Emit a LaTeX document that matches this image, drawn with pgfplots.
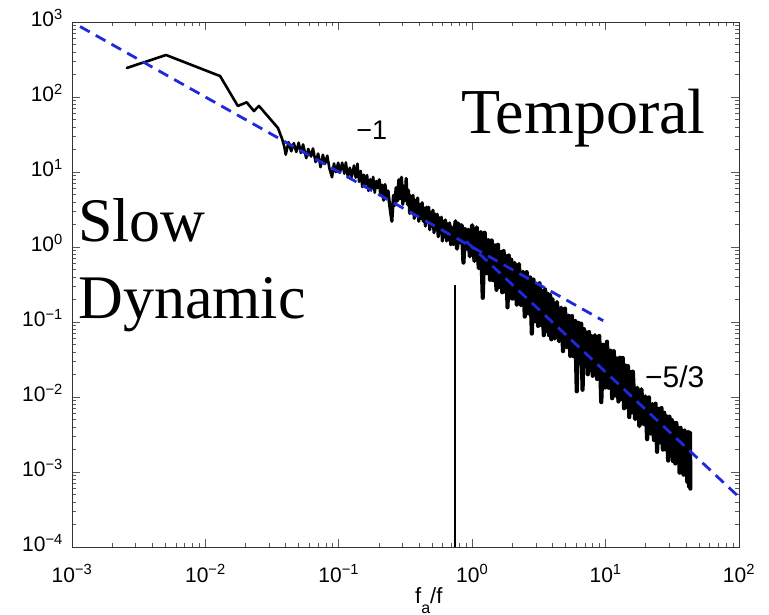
\documentclass[border=0pt]{standalone}
\usepackage{fontspec}
\setmainfont{Liberation Sans}
\newfontfamily\timesfont{Liberation Serif}
\usepackage{pgfplots}
\pgfplotsset{compat=1.18}
\definecolor{dashblue}{RGB}{30,40,220}
\begin{document}
\begin{tikzpicture}
\useasboundingbox (-72pt,-68pt) rectangle (697pt,547pt);
\begin{axis}[
  at={(0pt,0pt)}, anchor=south west,
  scale only axis, width=667pt, height=525pt,
  xmode=log, ymode=log,
  xmin=1e-3, xmax=1e2, ymin=1e-4, ymax=1e3,
  xtick={1e-3,1e-2,1e-1,1,10,100},
  xticklabels={10\textsuperscript{−3},10\textsuperscript{−2},10\textsuperscript{−1},10\textsuperscript{0},10\textsuperscript{1},10\textsuperscript{2}},
  ytick={1e-4,1e-3,1e-2,1e-1,1,10,100,1000},
  yticklabels={10\textsuperscript{−4},10\textsuperscript{−3},10\textsuperscript{−2},10\textsuperscript{−1},10\textsuperscript{0},10\textsuperscript{1},10\textsuperscript{2},10\textsuperscript{3}},
  tick label style={font=\fontsize{21}{24}\selectfont, inner sep=0pt},
  xticklabel style={anchor=base, yshift=-35pt},
  yticklabel style={anchor=east, xshift=-9pt, yshift=4pt},
  major tick length=8pt, minor tick length=4pt,
  tick style={black!65, line width=0.6pt},
  axis line style={black!80, line width=0.8pt},
  clip=false,
  xlabel={f\raisebox{-10pt}{\fontsize{16}{16}\selectfont a}/f},
  xlabel style={at={(axis description cs:0.535,0)}, anchor=base, yshift=-56pt, inner sep=0pt, font=\fontsize{22}{26}\selectfont},
]
% spectrum, low-frequency part
\addplot[black, line width=2.6pt, line join=round, line cap=round] coordinates {
(0.00258,244) (0.00507,363) (0.0129,190) (0.0175,76) (0.0204,85) (0.0231,65) (0.0252,76) (0.035,38.6) (0.0375,28) (0.039,22) (0.040,17)
(0.042,25) (0.044,18.9) (0.046,24.3) (0.048,18.5) (0.050,24.6) (0.052,17.9) (0.054,23.3) (0.057,15.3) (0.059,20.3) (0.062,16.1) (0.064,20.6) (0.067,13.6) (0.070,17.6) (0.073,11.6) (0.076,17.0) (0.079,12.9) (0.082,16.5) (0.085,11.2) (0.089,8.5) (0.092,13.0) (0.095,10.0) (0.099,13.3) (0.102,9.8) (0.106,13.3) (0.110,9.5) (0.113,13.4) (0.117,8.5) (0.121,11.4) (0.125,8.6) (0.130,12.2) (0.134,8.4) (0.138,12.9) (0.142,7.4) (0.146,10.3) (0.150,6.3) (0.154,9.2) (0.158,6.8) (0.163,9.1) (0.167,5.6) (0.172,8.0) (0.176,6.0) (0.181,8.6) (0.186,5.3) (0.191,7.6) (0.196,6.1) (0.201,7.9)
};
% spectrum, middle part
\addplot[black, line width=3.2pt, line join=round, line cap=round] coordinates {
(0.201,7.9) (0.206,4.9) (0.211,6.7) (0.217,4.2) (0.222,6.8) (0.228,4.6) (0.234,5.6) (0.240,3.7) (0.250,2.2) (0.257,4.9) (0.263,3.6) (0.269,6.2) (0.275,4.1) (0.282,7.9) (0.288,4.4) (0.295,8.5) (0.302,3.7) (0.308,6.5) (0.314,4.2) (0.320,8.2) (0.327,3.7) (0.333,5.7) (0.340,2.8) (0.346,4.8) (0.353,3.1) (0.360,4.9) (0.368,2.4) (0.375,4.2) (0.383,2.7) (0.390,4.5) (0.398,2.2) (0.406,3.7) (0.414,2.4) (0.422,3.9) (0.430,2.2) (0.438,3.3) (0.446,1.9) (0.455,3.4) (0.463,2.2) (0.472,3.4) (0.481,1.7) (0.490,2.9) (0.499,1.9) (0.508,3.1) (0.517,1.55) (0.527,2.75) (0.536,1.7) (0.546,2.75) (0.556,1.37) (0.566,2.45) (0.576,1.55) (0.587,2.5) (0.597,1.2) (0.608,2.2) (0.619,1.37) (0.630,2.3) (0.642,1.2) (0.653,2.05) (0.665,1.25) (0.677,2.1) (0.690,1.07) (0.702,1.85) (0.715,1.12)
};
% spectrum, dense high part
\addplot[black, line width=4.2pt, line join=round, line cap=round] coordinates {
(0.715,1.12) (0.73,1.1) (0.75,2.2) (0.77,0.95) (0.79,2.05) (0.81,1.15) (0.835,1.95) (0.86,0.62) (0.885,1.75) (0.91,0.95) (0.935,1.7) (0.96,0.75) (0.985,1.5)
(1.00,1.95) (1.04,0.65) (1.08,1.83) (1.12,0.52) (1.16,1.57) (1.20,0.21) (1.24,1.55) (1.28,0.45) (1.32,1.23) (1.36,0.365) (1.40,1.22) (1.44,0.36) (1.48,1.05) (1.52,0.269) (1.56,1.07) (1.60,0.294) (1.64,0.857) (1.68,0.249) (1.72,0.884) (1.76,0.255) (1.80,0.755) (1.84,0.157) (1.88,0.771) (1.92,0.211) (1.96,0.679) (2.00,0.205)
(2.08,0.614) (2.16,0.169) (2.24,0.594) (2.32,0.167) (2.40,0.468) (2.48,0.118) (2.56,0.462) (2.64,0.13) (2.72,0.393) (2.80,0.07) (2.88,0.368) (2.96,0.103) (3.04,0.316) (3.12,0.0887) (3.20,0.328) (3.28,0.0914) (3.36,0.259) (3.44,0.0666) (3.52,0.272) (3.60,0.076) (3.68,0.237) (3.76,0.067) (3.84,0.228) (3.92,0.0589) (4.00,0.2)
(4.16,0.0602) (4.32,0.185) (4.48,0.0554) (4.64,0.155) (4.80,0.0409) (4.96,0.151) (5.12,0.0461) (5.28,0.121) (5.44,0.0353) (5.60,0.12) (5.76,0.035) (5.92,0.103) (6.08,0.0119) (6.24,0.0975) (6.40,0.0285) (6.56,0.0951) (6.72,0.0125) (6.88,0.0804) (7.04,0.0257) (7.20,0.0723) (7.36,0.0201) (7.52,0.0735) (7.68,0.0229) (7.84,0.0646) (8.00,0.0192)
(8.32,0.0667) (8.64,0.0174) (8.96,0.0652) (9.28,0.00854) (9.60,0.0498) (9.92,0.0134) (10.24,0.0546) (10.56,0.0133) (10.88,0.0415) (11.2,0.00963) (11.52,0.0408) (11.84,0.0105) (12.16,0.0326) (12.48,0.00872) (12.8,0.0334) (13.12,0.00937) (13.44,0.0332) (13.76,0.00707) (14.08,0.0263) (14.4,0.00741) (14.72,0.0258) (15.04,0.0054) (15.36,0.0215) (15.68,0.00623) (16.0,0.0218)
(16.64,0.00507) (17.28,0.0133) (17.92,0.00408) (18.56,0.0127) (19.2,0.00436) (19.84,0.0102) (20.48,0.00274) (21.12,0.00989) (21.76,0.00324) (22.4,0.00804) (23.04,0.00268) (23.68,0.00816) (24.32,0.00186) (24.96,0.00696) (25.6,0.00248) (26.24,0.00713) (26.88,0.00199) (27.52,0.00615) (28.16,0.002) (28.8,0.0055) (29.44,0.00142) (30.08,0.00547) (30.72,0.00166) (31.36,0.00493) (32.0,0.0014)
(32.64,0.00452) (33.28,0.0013) (33.92,0.0045) (34.56,0.00137) (35.2,0.00384) (35.84,0.00098) (36.48,0.00388) (37.12,0.00109) (37.76,0.00353) (38.4,0.00092) (39.04,0.00357) (39.68,0.00109) (40.32,0.00327) (40.96,0.00074) (41.6,0.0034) (42.24,0.00064) (42.88,0.00333) (43.2,0.0006)
};
% vertical marker
\addplot[black, line width=1.4pt] coordinates {(0.745,1e-4) (0.745,0.31)};
% slope -1 reference
\addplot[dashblue, line width=2.8pt, dash pattern=on 11pt off 7pt] coordinates {(0.00115,870) (9.6,0.104)};
% slope -5/3 reference
\addplot[dashblue, line width=2.8pt, dash pattern=on 11pt off 7pt] coordinates {(0.9,1.19) (100,0.000464)};
% annotations
\node[anchor=center, inner sep=0pt, font=\fontsize{27}{30}\selectfont] at (axis cs:0.177,36) {−1};
\node[anchor=center, inner sep=0pt, font=\fontsize{30}{34}\selectfont] at (axis cs:33,0.0185) {−5/3};
\node[anchor=base west, inner sep=0pt, font=\timesfont\fontsize{64}{72}\selectfont] at (axis cs:0.824,33.1) {Temporal};
\node[anchor=base west, inner sep=0pt, font=\timesfont\fontsize{62}{70}\selectfont] at (axis cs:0.00111,1.166) {Slow};
\node[anchor=base west, inner sep=0pt, font=\timesfont\fontsize{62}{70}\selectfont] at (axis cs:0.00111,0.113) {Dynamic};
\end{axis}
\end{tikzpicture}
\end{document}
